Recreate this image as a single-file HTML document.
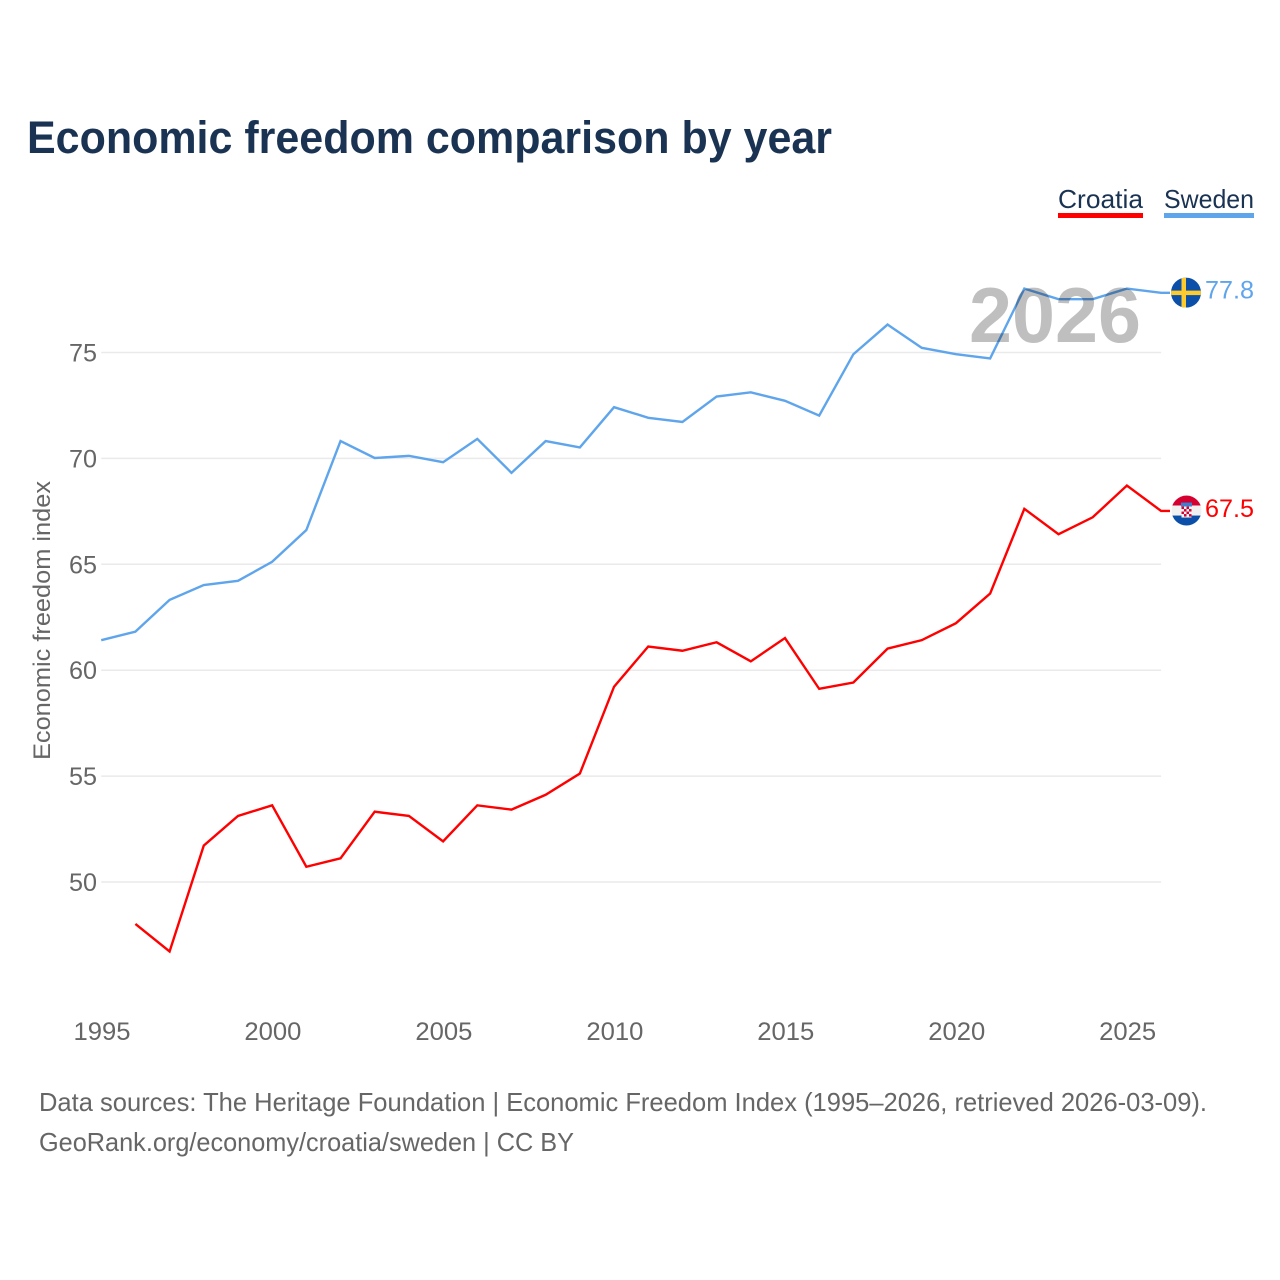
<!DOCTYPE html>
<html lang="en">
<head>
<meta charset="utf-8">
<title>Economic freedom comparison by year</title>
<style>
html,body{margin:0;padding:0;background:#fff;width:1280px;height:1280px;overflow:hidden}
svg{display:block}
text{font-family:"Liberation Sans",sans-serif}
</style>
</head>
<body>
<svg id="chart" width="1280" height="1280" viewBox="0 0 1280 1280" xmlns="http://www.w3.org/2000/svg">
  <defs>
    <clipPath id="clip-se"><circle cx="0" cy="0" r="15"/></clipPath>
    <clipPath id="clip-hr"><circle cx="0" cy="0" r="15"/></clipPath>
  </defs>
  <rect width="1280" height="1280" fill="#fff"/>
  <text x="27" y="153" font-size="45" font-weight="700" fill="#1a3353" textLength="805" lengthAdjust="spacingAndGlyphs">Economic freedom comparison by year</text>

  <g>
    <g>
      <text x="1058" y="208" font-size="26" fill="#1a3353" textLength="85" lengthAdjust="spacingAndGlyphs">Croatia</text>
      <rect x="1058" y="213" width="85" height="5" fill="#ff0000"/>
    </g>
    <g>
      <text x="1164" y="208" font-size="26" fill="#1a3353" textLength="90" lengthAdjust="spacingAndGlyphs">Sweden</text>
      <rect x="1164" y="213" width="90" height="5" fill="#5fa5ec"/>
    </g>
  </g>

  <g id="grid"></g>
  <g id="yticks"></g>
  <g id="xticks"></g>
  <text transform="translate(50,760) rotate(-90)" font-size="24" fill="#666" textLength="279" lengthAdjust="spacingAndGlyphs">Economic freedom index</text>

  <g id="series"></g>

  <text id="year-label" x="969" y="342" font-size="78" font-weight="700" fill="#000" fill-opacity="0.25" textLength="172" lengthAdjust="spacingAndGlyphs">2026</text>

  <g id="flag-se">
    <g clip-path="url(#clip-se)">
      <rect x="-15" y="-15" width="30" height="30" fill="#0b4fa8"/>
      <rect x="-4.5" y="-15" width="4.5" height="30" fill="#fecb2e"/>
      <rect x="-15" y="-2" width="30" height="4.5" fill="#fecb2e"/>
    </g>
  </g>
  <g id="flag-hr">
    <g clip-path="url(#clip-hr)">
      <rect x="-15" y="-15" width="30" height="10" fill="#d5002f"/>
      <rect x="-15" y="-5" width="30" height="10" fill="#f0f0f0"/>
      <rect x="-15" y="5" width="30" height="10" fill="#0b4fa8"/>
      <rect x="-5.5" y="-8" width="11" height="4" fill="#3f7fd0"/>
      <rect x="-5" y="-4" width="10" height="11" fill="#f4f4f4"/>
      <rect x="-5" y="-4" width="2.5" height="2.5" fill="#d5002f"/>
      <rect x="0" y="-4" width="2.5" height="2.5" fill="#d5002f"/>
      <rect x="-2.5" y="-1.5" width="2.5" height="2.5" fill="#d5002f"/>
      <rect x="2.5" y="-1.5" width="2.5" height="2.5" fill="#d5002f"/>
      <rect x="-5" y="1" width="2.5" height="2.5" fill="#d5002f"/>
      <rect x="0" y="1" width="2.5" height="2.5" fill="#d5002f"/>
      <rect x="-2.5" y="3.5" width="2.5" height="2.5" fill="#d5002f"/>
      <rect x="2.5" y="3.5" width="2.5" height="2.5" fill="#d5002f"/>
    </g>
  </g>
  <g id="end-labels"></g>

  <text x="39" y="1111" font-size="26" fill="#666" textLength="1168" lengthAdjust="spacingAndGlyphs">Data sources: The Heritage Foundation | Economic Freedom Index (1995–2026, retrieved 2026-03-09).</text>
  <text x="39" y="1151" font-size="26" fill="#666" textLength="535" lengthAdjust="spacingAndGlyphs">GeoRank.org/economy/croatia/sweden | CC BY</text>
</svg>
<script>
const years = [1995,1996,1997,1998,1999,2000,2001,2002,2003,2004,2005,2006,2007,2008,2009,2010,2011,2012,2013,2014,2015,2016,2017,2018,2019,2020,2021,2022,2023,2024,2025,2026];
const swedenValues = [61.4,61.8,63.3,64.0,64.2,65.1,66.6,70.8,70.0,70.1,69.8,70.9,69.3,70.8,70.5,72.4,71.9,71.7,72.9,73.1,72.7,72.0,74.9,76.3,75.2,74.9,74.7,78.0,77.5,77.5,78.0,77.8];
const croatiaValues = [null,48.0,46.7,51.7,53.1,53.6,50.7,51.1,53.3,53.1,51.9,53.6,53.4,54.1,55.1,59.2,61.1,60.9,61.3,60.4,61.5,59.1,59.4,61.0,61.4,62.2,63.6,67.6,66.4,67.2,68.7,67.5];
const yTickLabels = [50,55,60,65,70,75];
const xTickLabels = [1995,2000,2005,2010,2015,2020,2025];

const SVG_NS = 'http://www.w3.org/2000/svg';
const xScale = function (year) { return 101.2 + (year - 1995) * 34.19; };
const yScale = function (value) { return 881.6 - (value - 50) * 21.18; };

const grid = document.getElementById('grid');
const yticks = document.getElementById('yticks');
yTickLabels.forEach(function (tick) {
  const line = document.createElementNS(SVG_NS, 'line');
  
  
  line.setAttribute('x1', xScale(1995));
  line.setAttribute('x2', xScale(2026));
  line.setAttribute('y1', yScale(tick) + 0.4);
  line.setAttribute('y2', yScale(tick) + 0.4);
  line.setAttribute('stroke', '#eaeaea');
  line.setAttribute('stroke-width', '1.5');
  grid.appendChild(line);
  const label = document.createElementNS(SVG_NS, 'text');
  
  
  label.setAttribute('x', 97);
  label.setAttribute('y', yScale(tick) + 9.4);
  label.setAttribute('text-anchor', 'end');
  label.setAttribute('font-size', '25');
  label.setAttribute('fill', '#666');
  label.setAttribute('textLength', '28');
  label.setAttribute('lengthAdjust', 'spacingAndGlyphs');
  label.textContent = tick;
  yticks.appendChild(label);
});

const xticks = document.getElementById('xticks');
xTickLabels.forEach(function (tick) {
  const label = document.createElementNS(SVG_NS, 'text');
  
  
  label.setAttribute('x', xScale(tick) + 0.8);
  label.setAttribute('y', 1040);
  label.setAttribute('text-anchor', 'middle');
  label.setAttribute('font-size', '25');
  label.setAttribute('fill', '#666');
  label.setAttribute('textLength', '57');
  label.setAttribute('lengthAdjust', 'spacingAndGlyphs');
  label.textContent = tick;
  xticks.appendChild(label);
});

function linePoints(values) {
  const pts = [];
  values.forEach(function (v, i) {
    if (v !== null) pts.push(xScale(years[i]).toFixed(2) + ',' + yScale(v).toFixed(2));
  });
  const last = values[values.length - 1];
  pts.push('1170,' + yScale(last).toFixed(2));
  return pts.join(' ');
}

const series = document.getElementById('series');

const swedenLine = document.createElementNS(SVG_NS, 'polyline');


swedenLine.setAttribute('points', linePoints(swedenValues));
swedenLine.setAttribute('fill', 'none');
swedenLine.setAttribute('stroke', '#5fa5ec');
swedenLine.setAttribute('stroke-width', '2.4');
series.appendChild(swedenLine);

const croatiaLine = document.createElementNS(SVG_NS, 'polyline');


croatiaLine.setAttribute('points', linePoints(croatiaValues));
croatiaLine.setAttribute('fill', 'none');
croatiaLine.setAttribute('stroke', '#ff0000');
croatiaLine.setAttribute('stroke-width', '2.4');
series.appendChild(croatiaLine);

const lastSweden = swedenValues[swedenValues.length - 1];
const lastCroatia = croatiaValues[croatiaValues.length - 1];
document.getElementById('flag-se').setAttribute('transform', 'translate(1186,' + (yScale(lastSweden) - 0.2).toFixed(2) + ')');
document.getElementById('flag-hr').setAttribute('transform', 'translate(1186.5,' + (yScale(lastCroatia) - 0.4).toFixed(2) + ')');

const endLabels = document.getElementById('end-labels');

const swedenEnd = document.createElementNS(SVG_NS, 'text');


swedenEnd.setAttribute('x', 1205);
swedenEnd.setAttribute('y', yScale(lastSweden) + 5.9);
swedenEnd.setAttribute('font-size', '25');
swedenEnd.setAttribute('fill', '#5fa5ec');
swedenEnd.setAttribute('textLength', '49');
swedenEnd.setAttribute('lengthAdjust', 'spacingAndGlyphs');
swedenEnd.textContent = lastSweden.toFixed(1);
endLabels.appendChild(swedenEnd);

const croatiaEnd = document.createElementNS(SVG_NS, 'text');


croatiaEnd.setAttribute('x', 1205);
croatiaEnd.setAttribute('y', yScale(lastCroatia) + 5.9);
croatiaEnd.setAttribute('font-size', '25');
croatiaEnd.setAttribute('fill', '#ff0000');
croatiaEnd.setAttribute('textLength', '49');
croatiaEnd.setAttribute('lengthAdjust', 'spacingAndGlyphs');
croatiaEnd.textContent = lastCroatia.toFixed(1);
endLabels.appendChild(croatiaEnd);
</script>
</body>
</html>
